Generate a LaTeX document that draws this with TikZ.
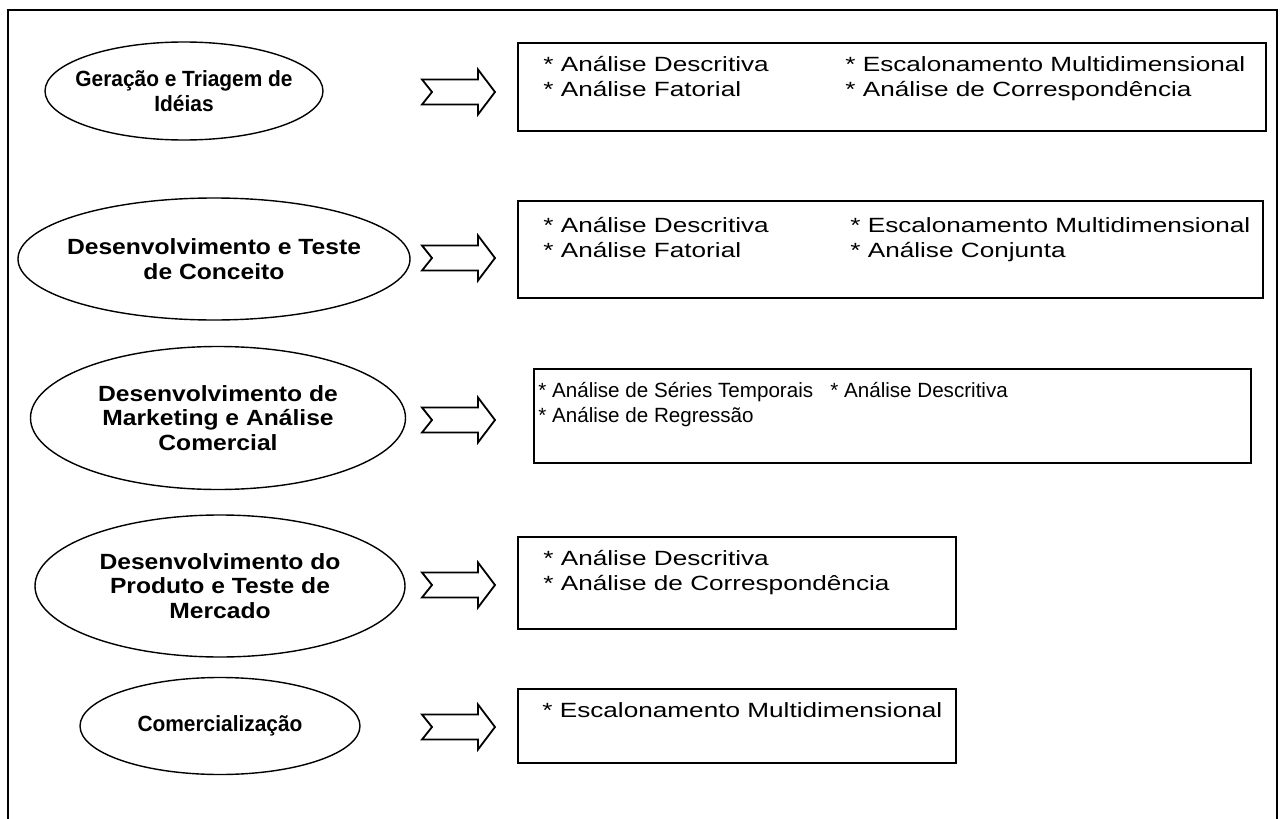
\documentclass[tikz,border=0pt]{standalone}
\usepackage{fontspec}
\setmainfont{Liberation Sans}
\newfontfamily\widefont[FakeStretch=1.27]{Liberation Sans}
\newfontfamily\stagefont[FakeStretch=1.12]{Liberation Sans}
\newfontfamily\tightfont[FakeStretch=0.95]{Liberation Sans}
\usetikzlibrary{shapes.geometric,positioning}

\begin{document}
\begin{tikzpicture}[x=0.5pt, y=-0.5pt,
  stage/.style={draw, ellipse, line width=0.7pt, inner sep=0pt},
  stagetext/.style={align=center, inner sep=0pt, font=\stagefont\bfseries\fontsize{11}{12.25}\selectfont},
  narrowstage/.style={stagetext, font=\tightfont\bfseries\fontsize{11}{12.25}\selectfont},
  box/.style={draw, line width=0.9pt, inner sep=0pt, anchor=north west},
  items/.style={align=left, inner sep=0pt, font=\widefont\fontsize{10.3}{12.5}\selectfont},
  narrowitems/.style={items, font=\fontsize{10.3}{12.5}\selectfont},
  fatarrow/.style={draw, line width=0.9pt, line join=miter}]

  \useasboundingbox (0,0) rectangle (1281,819);
  \draw[line width=1pt] (8,10) rectangle (1277,860);

  % stages
  \node[stage, minimum width=139pt, minimum height=49pt] (s1) at (184,91) {};
  \node[narrowstage] (s1t) at (s1) {Geração e Triagem de\\Idéias};
  \node[stage, minimum width=196pt, minimum height=61pt] (s2) at (214,259) {};
  \node[stagetext] (s2t) at (s2) {Desenvolvimento e Teste\\de Conceito};
  \node[stage, minimum width=187.5pt, minimum height=71.5pt] (s3) at (218,418) {};
  \node[stagetext] (s3t) at (s3) {Desenvolvimento de\\Marketing e Análise\\Comercial};
  \node[stage, minimum width=185pt, minimum height=71pt] (s4) at (220,586) {};
  \node[stagetext] (s4t) at (s4) {Desenvolvimento do\\Produto e Teste de\\Mercado};
  \node[stage, minimum width=140pt, minimum height=48.5pt] (s5) at (220,726) {};
  \node[narrowstage] (s5t) at (s5) {Comercialização};

  % arrows
  \foreach \y [count=\i] in {92,258,420,585,727} {
    \coordinate (a\i) at (422,\y);
    \draw[fatarrow] (a\i) ++(0,-12.5) -- ++(56,0) -- ++(0,-10) -- ++(17,22.5)
      -- ++(-17,22.5) -- ++(0,-10) -- ++(-56,0) -- ++(10,-12.5) -- cycle;
  }

  % techniques
  \node[box, minimum width=374pt, minimum height=44pt] (b1) at (517,42) {};
  \node[items, below right=7pt and 13pt of b1.north west] (b1l) {* Análise Descritiva\\* Análise Fatorial};
  \node[items, below right=7pt and 164pt of b1.north west] (b1r) {* Escalonamento Multidimensional\\* Análise de Correspondência};

  \node[box, minimum width=372.5pt, minimum height=48.5pt] (b2) at (517,200) {};
  \node[items, below right=8.5pt and 13pt of b2.north west] (b2l) {* Análise Descritiva\\* Análise Fatorial};
  \node[items, below right=8.5pt and 166.5pt of b2.north west] (b2r) {* Escalonamento Multidimensional\\* Análise Conjunta};

  \node[box, minimum width=358.5pt, minimum height=47pt] (b3) at (533,368) {};
  \node[narrowitems, below right=7pt and 2.5pt of b3.north west] (b3l) {* Análise de Séries Temporais\\* Análise de Regressão};
  \node[narrowitems, below right=7pt and 148.5pt of b3.north west] (b3r) {* Análise Descritiva};

  \node[box, minimum width=219pt, minimum height=46pt] (b4) at (517,536) {};
  \node[items, below right=7pt and 13pt of b4.north west] (b4l) {* Análise Descritiva\\* Análise de Correspondência};

  \node[box, minimum width=219pt, minimum height=37pt] (b5) at (517,688) {};
  \node[items, below right=7pt and 12.5pt of b5.north west] (b5l) {* Escalonamento Multidimensional};
\end{tikzpicture}
\end{document}
